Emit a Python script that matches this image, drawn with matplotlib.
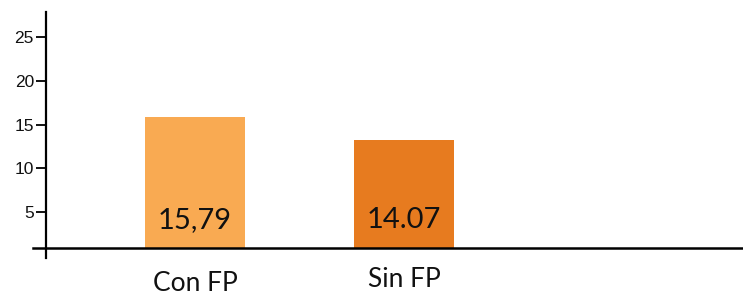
import matplotlib
matplotlib.use("Agg")
import matplotlib.pyplot as plt

# Data
categories = ["Con FP", "Sin FP"]
bar_tops = [15.9, 13.2]          # bar heights as drawn in the picture
bar_labels = ["15,79", "14.07"]  # labels printed inside the bars
bar_colors = ["#F9AA52", "#E77B1F"]
yticks = [5, 10, 15, 20, 25]
base = 0.94                      # value where the horizontal axis line sits

fig = plt.figure(figsize=(7.43, 2.96), dpi=100)
# axes spans x 33..743 px, y 12..258 px (from the top)
ax = fig.add_axes([33 / 743, 38 / 296, 710 / 743, 246 / 296])
ax.set_xlim(-0.775, 2.622)
ax.set_ylim(-0.26, 27.86)

xs = list(range(len(categories)))
heights = [t - base for t in bar_tops]
ax.bar(xs, heights, bottom=base, width=0.478, color=bar_colors, zorder=1)

for x, lab in zip(xs, bar_labels):
    ax.text(x, 3.2, lab, ha="center", va="baseline", fontsize=21,
            family="Lato", color="#111111", zorder=3)

# category names sit below the axis line, slightly staggered like the source
cat_y = [-4.0, -3.55]
for x, lab, y in zip(xs, categories, cat_y):
    ax.text(x, y, lab, ha="center", va="baseline", fontsize=19,
            family="Lato", color="#111111", clip_on=False)

for s in ("top", "right"):
    ax.spines[s].set_visible(False)
ax.spines["left"].set_position(("data", -0.713))
ax.spines["bottom"].set_position(("data", base))
ax.spines["left"].set_linewidth(1.6)
ax.spines["bottom"].set_linewidth(1.8)
ax.spines["left"].set_zorder(4)
ax.spines["bottom"].set_zorder(4)

ax.set_xticks([])
ax.set_yticks(yticks)
ax.set_yticklabels([str(t) for t in yticks], family="Liberation Sans", fontsize=12.5)
ax.tick_params(axis="y", direction="out", length=7.2, width=1.4, pad=1.5, colors="#111111")

fig.savefig("out.png", dpi=100)
